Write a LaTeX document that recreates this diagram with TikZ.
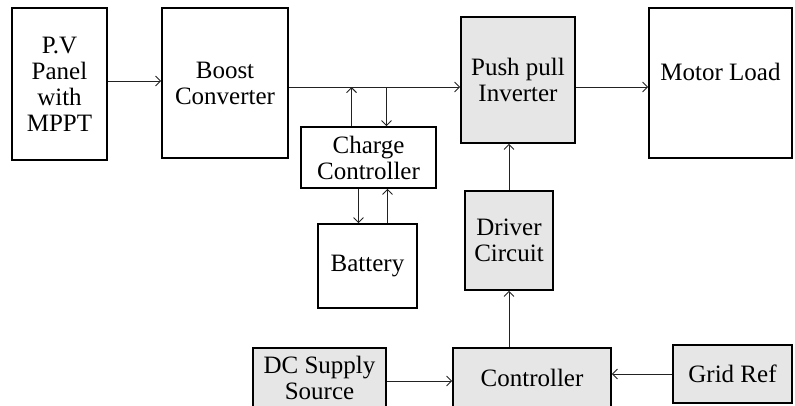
\documentclass[tikz,border=0pt]{standalone}
\usepackage{fontspec}
\setmainfont{Liberation Serif}
\usepackage{tikz}
\usetikzlibrary{positioning,arrows.meta,calc}
\definecolor{ink}     {HTML}{000000}
\definecolor{wire}    {HTML}{222222}
\definecolor{shade}   {HTML}{E6E6E6}
\tikzset{
  >={Straight Barb[length=5pt,width=10pt]},
  every node/.style={font=\fontsize{25}{26}\selectfont},
  % --- nodes
  blk/.style  = {draw=ink, fill=white, align=center, line width=1.6pt,
                 inner sep=2pt, text=ink},
  gblk/.style = {blk, fill=shade},
  % --- edges
  e/.style    = {->, line width=0.9pt, draw=wire},
}
\begin{document}
\begin{tikzpicture}[x=1pt,y=-1pt]
  \useasboundingbox (0,0) rectangle (795,405);
  \clip (0,0) rectangle (795,405);
  \node[blk, minimum width=95pt, minimum height=152pt] (pv) at (59.5,84) {P.V\\Panel\\with\\MPPT};
  \node[blk, minimum width=126pt, minimum height=150pt] (boost) at (225,83) {Boost\\Converter};
  \node[gblk, minimum width=114pt, minimum height=126pt] (inv) at (518,80) {Push pull\\Inverter};
  \node[blk, minimum width=143pt, minimum height=150pt] (load) at (720.5,83) {Motor Load\\[-12pt]\strut};
  \node[blk, minimum width=135pt, minimum height=61pt] (cc) at (368.5,157.5) {Charge\\Controller};
  \node[blk, minimum width=99pt, minimum height=84pt] (bat) at (367.5,266) {Battery};
  \node[gblk, minimum width=88pt, minimum height=99pt] (drv) at (509,240.5) {Driver\\Circuit};
  \node[gblk, minimum width=133pt, minimum height=60pt] (dcs) at (319.5,378) {DC Supply\\Source};
  \node[gblk, minimum width=158pt, minimum height=60pt] (ctrl) at (532,378) {Controller};
  \node[gblk, minimum width=119pt, minimum height=58pt] (grid) at (732.5,374) {Grid Ref};
  \coordinate (bus) at ([yshift=-4pt]boost.east);
  \draw[e] ([yshift=3pt]pv.east) -- ([yshift=3pt]pv.east -| boost.west);
  \draw[e] (bus) -- (bus -| inv.west);
  \draw[e] ([yshift=-7pt]inv.east) -- ([yshift=-7pt]inv.east -| load.west);
  \draw[e] ([xshift=-17pt]cc.north) -- ([xshift=-17pt]cc.north |- bus);
  \draw[e] ([xshift=18pt]cc.north |- bus) -- ([xshift=18pt]cc.north);
  \draw[e] ([xshift=-10pt]cc.south) -- ([xshift=-10pt]cc.south |- bat.north);
  \draw[e] ([xshift=19pt]cc.south |- bat.north) -- ([xshift=19pt]cc.south);
  \draw[e] (drv.north) -- (drv.north |- inv.south);
  \draw[e] (drv.south |- ctrl.north) -- (drv.south);
  \draw[e] ([yshift=-3pt]dcs.east) -- ([yshift=-3pt]dcs.east -| ctrl.west);
  \draw[e] (grid.west) -- (grid.west -| ctrl.east);
\end{tikzpicture}
\end{document}
